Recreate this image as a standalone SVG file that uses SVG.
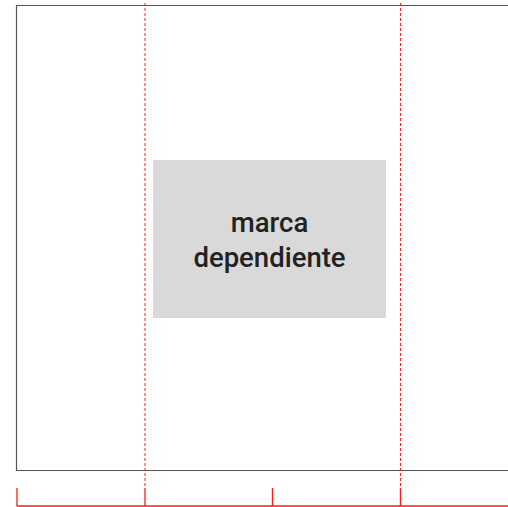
<svg xmlns="http://www.w3.org/2000/svg" width="508" height="507" viewBox="0 0 508 507">
<style>
.frame{fill:none;stroke:#555;stroke-width:1.2}
.guide{stroke:#ff2020;stroke-width:1;stroke-dasharray:3,2;fill:none}
.ruler{stroke:#ff1a1a;stroke-width:1.3;fill:none}
.lbl{font-family:Roboto,"Liberation Sans",sans-serif;font-weight:500;font-size:27.5px;fill:#222;text-anchor:middle}
</style>
<rect width="508" height="507" fill="#fff"/>
<g id="frame">
<polyline class="frame" points="508,5.5 16.5,5.5 16.5,470.5 508,470.5"/>
</g>
<g id="node-marca">
<rect x="153" y="160" width="233" height="158" fill="#d9d9d9"/>
<text class="lbl" x="269.5" y="232">marca</text>
<text class="lbl" x="269.5" y="266.5">dependiente</text>
</g>
<g id="connectors">
<line class="guide" x1="145" y1="3" x2="145" y2="488"/>
<line class="guide" x1="400.5" y1="3" x2="400.5" y2="488"/>
<polyline class="ruler" points="17,488 17,506 508,506"/>
<line class="ruler" x1="145" y1="488" x2="145" y2="506"/>
<line class="ruler" x1="272.5" y1="488" x2="272.5" y2="506"/>
<line class="ruler" x1="400.5" y1="488" x2="400.5" y2="506"/>
</g>
</svg>
